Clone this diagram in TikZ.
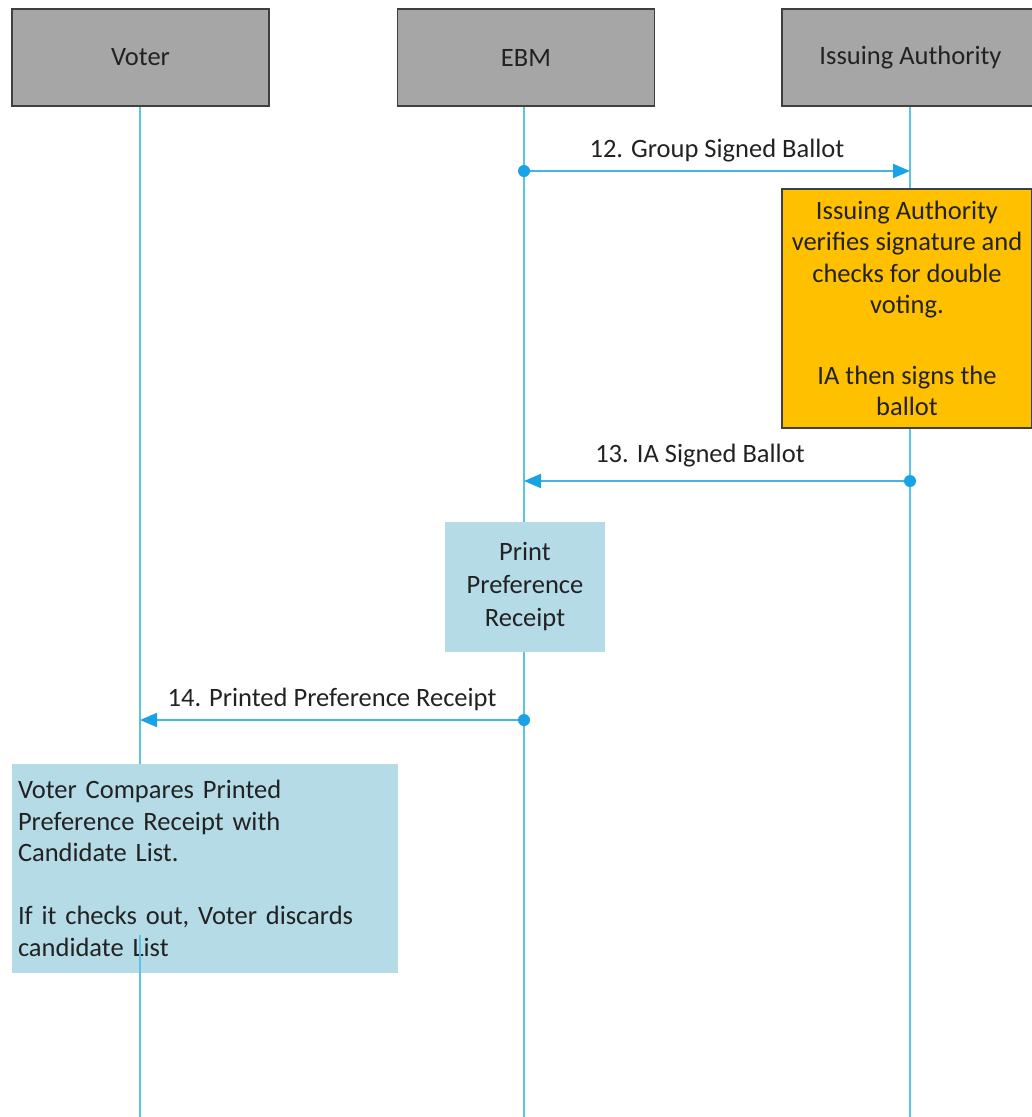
\documentclass[tikz,border=0pt]{standalone}
\usepackage{fontspec}
\setmainfont{Carlito}
\usetikzlibrary{arrows.meta}
\definecolor{hdrfill}{HTML}{A6A6A6}
\definecolor{hdrline}{HTML}{3F3F3F}
\definecolor{lifecol}{HTML}{5CC3E6}
\definecolor{msgcol}{HTML}{45B4E4}
\definecolor{tipcol}{HTML}{18A3E6}
\definecolor{iafill}{HTML}{FFC000}
\definecolor{notefill}{HTML}{B4DBE6}
\definecolor{txt}{HTML}{222222}
\begin{document}
\begin{tikzpicture}[x=1pt,y=-1pt,
  every node/.style={font=\fontsize{26.5}{31.5}\selectfont, text=txt, inner sep=0pt},
  actor/.style={draw=hdrline, line width=1.5pt, fill=hdrfill,
    minimum width=257pt, minimum height=97pt},
  life/.style={draw=lifecol, line width=2pt},
  msg/.style={draw=msgcol, line width=2pt,
    -{Triangle[length=17pt,width=14pt,color=tipcol]}},
  dot/.style={fill=tipcol},
  iabox/.style={draw=hdrline, line width=1.5pt, fill=iafill, align=center},
  notebox/.style={fill=notefill},
  lbl/.style={above=8pt}
]
\useasboundingbox (0,0) rectangle (1032,1117);

% participants
\node[actor] (voter) at (140.5,57.5) {Voter};
\node[actor] (ebm)   at (526,57.5) {EBM};
\node[actor] (ia)    at (910.5,57.5) {Issuing Authority};

% lifeline ends
\coordinate (vEnd) at (140,1117);
\coordinate (eEnd) at (524,1117);
\coordinate (iEnd) at (910,1117);
\draw[life] (voter.south -| vEnd) -- (vEnd);
\draw[life] (ebm.south -| eEnd) -- (eEnd);
\draw[life] (ia.south -| iEnd) -- (iEnd);

% activity boxes
\node[iabox, minimum width=250pt, minimum height=239pt] (verify) at (907,308.5)
  {Issuing Authority\\verifies signature and\\checks for double\\voting.\\[39pt]IA then signs the\\ballot};
\node[notebox, minimum width=160pt, minimum height=130pt, align=center, font=\fontsize{26.5}{33}\selectfont] (print) at (525,587)
  {Print\\Preference\\Receipt};
\node[notebox, minimum width=386pt, minimum height=209pt, text width=374pt, align=left] (compare) at (205,868.5)
  {Voter Compares Printed\\Preference Receipt with\\Candidate List.\\[31.5pt]If it checks out, Voter discards\\candidate List};

% lifeline piece showing through the comparison note
\coordinate (vShow) at (140,935);
\draw[life] (vShow) -- (compare.south -| vShow);

% messages
\coordinate (m12a) at (524,171);
\coordinate (m12b) at (910,171);
\coordinate (m13a) at (910,481);
\coordinate (m13b) at (524,481);
\coordinate (m14a) at (524,720);
\coordinate (m14b) at (140,720);

\draw[msg] (m12a) -- node[lbl] (l12) {12. Group Signed Ballot} (m12b);
\fill[dot] (m12a) circle[radius=6pt];
\draw[msg] (m13a) -- node[above=13pt, pos=0.544] (l13) {13. IA Signed Ballot} (m13b);
\fill[dot] (m13a) circle[radius=6pt];
\draw[msg] (m14a) -- node[lbl] (l14) {14. Printed Preference Receipt} (m14b);
\fill[dot] (m14a) circle[radius=6pt];
\end{tikzpicture}
\end{document}
